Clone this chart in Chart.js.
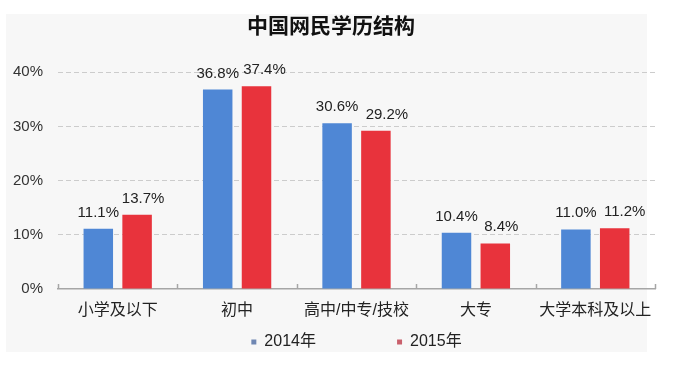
<!DOCTYPE html>
<html>
<head>
<meta charset="utf-8">
<script src="https://cdn.jsdelivr.net/npm/chart.js@4"></script>
<style>
  html, body { margin: 0; padding: 0; background: #ffffff; }
  #wrap { width: 681px; height: 372px; }
</style>
</head>
<body>
<div id="wrap"><canvas id="c" width="681" height="372"></canvas></div>
<script>
// ---- data ----
const categories = ['小学及以下', '初中', '高中/中专/技校', '大专', '大学本科及以上'];
const series2014 = [11.1, 36.8, 30.6, 10.4, 11.0];
const series2015 = [13.7, 37.4, 29.2, 8.4, 11.2];
const seriesNames = ['2014年', '2015年'];
const yTickValues = [0, 10, 20, 30, 40];
const chartTitle = '中国网民学历结构';

// ---- styles ----
const FONT = "'Liberation Sans', 'Noto Sans CJK SC', Arial, sans-serif";
const blue = '#4f87d5';
const red = '#e8333c';
const legendSwatch = ['#6f87b3', '#c9606c'];
const labelNudge = [[0, 0, 0, 0, 0], [6, 8, 11, 6, 10]];

const bgPlugin = {
  id: 'bg',
  beforeDraw(chart) {
    const ctx = chart.ctx;
    ctx.save();
    ctx.fillStyle = '#f7f7f7';
    ctx.fillRect(6, 14, 641, 338);
    ctx.restore();
  }
};

const tickMarks = {
  id: 'tickMarks',
  afterDraw(chart) {
    const x = chart.scales.x;
    const n = categories.length;
    const ctx = chart.ctx;
    ctx.save();
    ctx.strokeStyle = '#a6a6a6';
    ctx.lineWidth = 1.5;
    const step = x.width / n;
    for (let i = 0; i <= n; i++) {
      const px = Math.round(x.left + i * step) + 0.5;
      ctx.beginPath();
      ctx.moveTo(px, x.top);
      ctx.lineTo(px, x.top - 5);
      ctx.stroke();
    }
    ctx.restore();
  }
};

const valueLabels = {
  id: 'valueLabels',
  afterDatasetsDraw(chart) {
    const ctx = chart.ctx;
    ctx.save();
    ctx.font = '15px ' + FONT;
    ctx.fillStyle = '#222';
    ctx.textAlign = 'center';
    ctx.textBaseline = 'alphabetic';
    chart.data.datasets.forEach((ds, di) => {
      const meta = chart.getDatasetMeta(di);
      meta.data.forEach((bar, i) => {
        ctx.fillText(ds.data[i].toFixed(1) + '%', bar.x + labelNudge[di][i], bar.y - 12);
      });
    });
    ctx.restore();
  }
};

new Chart(document.getElementById('c'), {
  type: 'bar',
  data: {
    labels: categories,
    datasets: [
      { label: seriesNames[0], data: series2014, backgroundColor: blue, borderWidth: 0 },
      { label: seriesNames[1], data: series2015, backgroundColor: red, borderWidth: 0 }
    ]
  },
  options: {
    responsive: false,
    animation: false,
    datasets: { bar: { categoryPercentage: 0.65, barPercentage: 0.76 } },
    layout: { padding: { left: 7, right: 26, top: 10, bottom: 12 } },
    plugins: {
      tooltip: { enabled: false },
      title: {
        display: true,
        text: chartTitle,
        color: '#111',
        font: { family: FONT, size: 21, weight: 'bold' },
        padding: { top: 5, bottom: 32 }
      },
      legend: {
        position: 'bottom',
        fullSize: false,
        labels: {
          color: '#222',
          font: { family: FONT, size: 16 },
          boxWidth: 5,
          boxHeight: 5,
          padding: 10,
          generateLabels(chart) {
            return chart.data.datasets.map((ds, i) => ({
              text: i === 0 ? ds.label + ' '.repeat(16) : ds.label,
              fillStyle: legendSwatch[i],
              strokeStyle: legendSwatch[i],
              lineWidth: 0,
              hidden: false,
              datasetIndex: i,
              fontColor: '#222'
            }));
          }
        }
      }
    },
    scales: {
      x: {
        grid: { display: false, drawTicks: false },
        border: { display: true, color: '#a6a6a6', width: 1.5 },
        ticks: { color: '#222', font: { family: FONT, size: 16 }, padding: 12, maxRotation: 0, autoSkip: false },
        afterFit(scale) { scale.paddingRight = 12; scale.height = 35; }
      },
      y: {
        min: 0,
        max: 40,
        afterBuildTicks(scale) { scale.ticks = yTickValues.map(v => ({ value: v })); },
        grid: {
          drawTicks: false,
          color: (c) => (c.tick && c.tick.value === 0) ? 'rgba(0,0,0,0)' : '#cccccc',
          lineWidth: 1
        },
        border: { display: false, dash: [5, 3] },
        ticks: {
          color: '#333',
          font: { family: FONT, size: 15 },
          padding: 15,
          callback: (v) => v + '%'
        },
        afterFit(scale) { scale.width = 51; }
      }
    }
  },
  plugins: [bgPlugin, tickMarks, valueLabels]
});
</script>
</body>
</html>
